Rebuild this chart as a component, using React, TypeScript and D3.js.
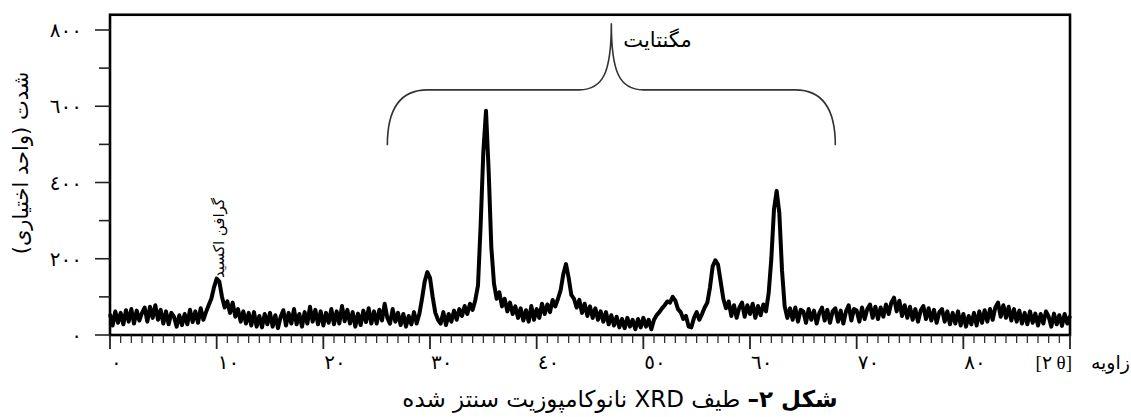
import React from 'react';
import * as d3 from 'd3';

const width = 1131;
const height = 417;

// XRD trace, one reading every 0.25 degree from 0 to 90 (2θ)
const stepDeg = 0.25;
const intensity = [
  55, 25, 62, 32, 58, 28, 65, 35, 68, 30, 64, 38, 58, 72, 35, 74,
  45, 78, 40, 66, 30, 62, 28, 58, 48, 22, 52, 26, 55, 28, 66, 34,
  62, 32, 70, 40, 60, 78, 95, 125, 148, 140, 100, 72, 88, 58, 85, 48,
  68, 35, 62, 30, 58, 25, 60, 22, 50, 20, 55, 28, 58, 22, 52, 18,
  48, 65, 25, 58, 30, 68, 28, 55, 22, 60, 30, 74, 35, 66, 28, 62,
  25, 58, 32, 68, 28, 62, 30, 76, 36, 66, 30, 60, 22, 56, 26, 64,
  34, 70, 30, 62, 30, 66, 38, 82, 45, 30, 68, 35, 58, 26, 55, 22,
  50, 28, 60, 30, 55, 95, 140, 165, 150, 100, 58, 40, 30, 60, 26, 55,
  35, 64, 40, 68, 50, 76, 55, 82, 66, 92, 130, 290, 480, 588, 430, 230,
  135, 95, 112, 75, 95, 62, 85, 55, 75, 45, 70, 38, 65, 35, 76, 40,
  68, 45, 82, 55, 80, 60, 92, 75, 95, 118, 160, 186, 150, 105, 95, 72,
  92, 58, 82, 50, 75, 45, 70, 40, 62, 35, 60, 28, 52, 25, 48, 20,
  42, 18, 45, 22, 40, 15, 42, 20, 45, 22, 40, 15, 40, 52, 60, 70,
  78, 88, 85, 100, 90, 68, 60, 42, 50, 22, 20, 45, 60, 40, 55, 72,
  85, 125, 180, 196, 185, 140, 95, 70, 88, 50, 78, 45, 72, 85, 48, 78,
  55, 82, 45, 76, 52, 80, 62, 110, 200, 330, 378, 320, 170, 75, 45, 70,
  40, 72, 35, 66, 62, 32, 68, 40, 64, 30, 58, 72, 38, 66, 32, 62,
  70, 35, 64, 30, 62, 78, 38, 68, 64, 35, 72, 42, 68, 80, 45, 74,
  42, 72, 48, 80, 55, 85, 98, 62, 90, 50, 78, 45, 74, 40, 68, 35,
  64, 76, 42, 70, 38, 66, 32, 60, 68, 35, 62, 28, 58, 30, 62, 25,
  55, 22, 50, 28, 58, 25, 62, 32, 65, 35, 68, 40, 72, 85, 48, 78,
  45, 74, 38, 68, 35, 64, 30, 58, 28, 62, 32, 56, 25, 55, 30, 62,
  48, 22, 56, 28, 52, 24, 55, 30, 50,
];

const xTicks = [0, 10, 20, 30, 40, 50, 60, 70, 80];
const xTickLabels = ['٠', '١٠', '٢٠', '٣٠', '٤٠', '٥٠', '٦٠', '٧٠', '٨٠'];
const yTicks = [0, 200, 400, 600, 800];
const yTickLabels = ['٠', '٢٠٠', '٤٠٠', '٦٠٠', '٨٠٠'];

// brace over the magnetite peaks: [left deg, tip deg, right deg], [end, bar, tip] heights
const braceDeg = [26, 47, 68];
const braceLevel = [498, 643, 818];

const persian = "'DejaVu Sans', sans-serif";

export default function App() {
  const x = d3.scaleLinear().domain([0, 90]).range([110, 1070]);
  const y = d3.scaleLinear().domain([0, 800]).range([335, 30]);
  const top = y(840);

  const line = d3.line<number>()
    .x((d, i) => x(i * stepDeg))
    .y((d) => y(d));

  // curly brace
  const [lx, tx, rx] = braceDeg.map(x);
  const [ey, hy, ty] = braceLevel.map(y);
  const p = d3.path();
  p.moveTo(lx, ey);
  p.quadraticCurveTo(lx, hy, lx + 40, hy);
  p.lineTo(tx - 32, hy);
  p.bezierCurveTo(tx - 8, hy, tx, hy - 18, tx, ty);
  p.bezierCurveTo(tx, hy - 18, tx + 8, hy, tx + 32, hy);
  p.lineTo(rx - 40, hy);
  p.quadraticCurveTo(rx, hy, rx, ey);

  const minorX = d3.range(0, 91, 1);
  const minorY = d3.range(0, 801, 100);

  return (
    <svg width={width} height={height} style={{ position: 'absolute', left: 0, top: 0 }}>
      <rect width={width} height={height} fill="#fff" />

      {/* trace */}
      <path d={line(intensity) || ''} fill="none" stroke="#000" strokeWidth={4} strokeLinejoin="round" />

      {/* frame */}
      <rect x={x(0)} y={top} width={x(90) - x(0)} height={y(0) - top} fill="none" stroke="#000" strokeWidth={2.6} />

      {/* x ticks */}
      {minorX.map((d) => (
        <line key={'mx' + d} x1={x(d)} x2={x(d)} y1={y(0)} y2={y(0) + (d % 10 === 0 ? 14 : 8)}
          stroke="#222" strokeWidth={d % 10 === 0 ? 1.8 : 1.2} />
      ))}
      {xTicks.map((d, i) => (
        <text key={'xl' + d} x={x(d) + 1} y={369} fontSize={20} fontFamily={persian} textAnchor="start">
          {xTickLabels[i]}
        </text>
      ))}

      {/* y ticks */}
      {minorY.map((d) => (
        <line key={'my' + d} x1={x(0) - (d % 200 === 0 ? 15 : 11)} x2={x(0)} y1={y(d)} y2={y(d)}
          stroke="#222" strokeWidth={1.6} />
      ))}
      {yTicks.map((d, i) => (
        <text key={'yl' + d} x={82} y={y(d)} dy="0.35em" fontSize={20} fontFamily={persian} textAnchor="end">
          {yTickLabels[i]}
        </text>
      ))}

      {/* axis titles */}
      <text transform={`translate(28,163) rotate(-90)`} direction="rtl" textAnchor="middle" fontSize={21} fontFamily={persian}>
        شدت (واحد اختیاری)
      </text>
      <text x={1072} y={369} textAnchor="end" fontSize={19} fontFamily="'Liberation Serif', serif">[٢ θ]</text>
      <text x={1130} y={369} textAnchor="end" fontSize={19} fontFamily={persian}>زاویه</text>

      {/* annotations */}
      <path d={p.toString()} fill="none" stroke="#333" strokeWidth={1.6} />
      <text x={tx + 12} y={47} fontSize={21} fontFamily={persian}>مگنتایت</text>
      <text transform={`translate(${x(10.2) + 5},238) rotate(-90)`} direction="rtl" textAnchor="middle" fontSize={15} fontFamily={persian}>
        گرافن اکسید
      </text>

      {/* caption */}
      <text x={620} y={407} direction="rtl" textAnchor="middle" fontSize={23} fontFamily={persian}>
        <tspan fontWeight="bold">شکل ٢–</tspan>
        <tspan> طیف XRD نانوکامپوزیت سنتز شده</tspan>
      </text>
    </svg>
  );
}
